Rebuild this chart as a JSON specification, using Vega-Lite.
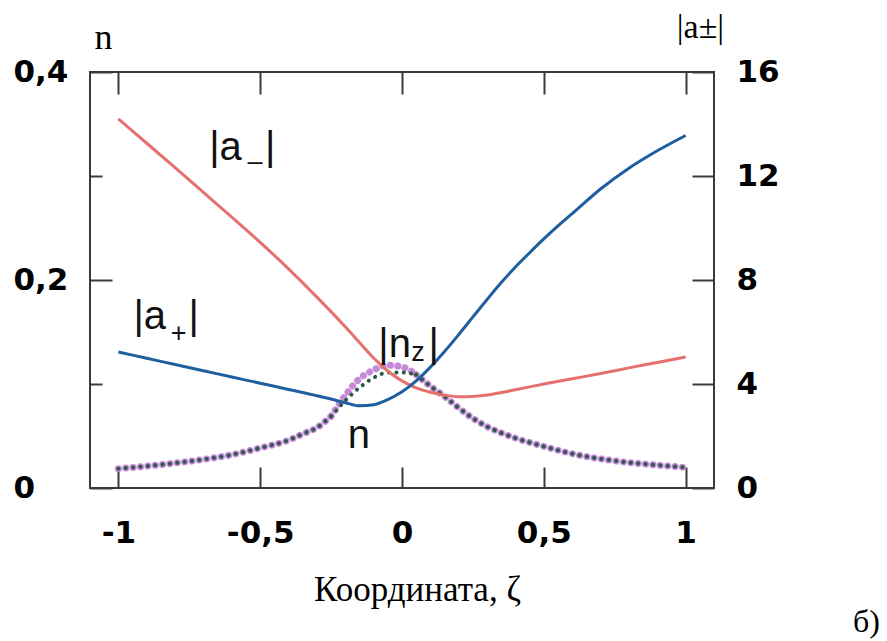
{
  "$schema": "https://vega.github.io/schema/vega-lite/v6.json",
  "width": 624,
  "height": 416,
  "autosize": {"type": "none"},
  "padding": {"left": 90, "top": 72, "right": 173, "bottom": 153},
  "background": "white",
  "config": {
    "view": {"stroke": "#3a3a3a", "strokeWidth": 2},
    "axis": {
      "domain": false, "grid": false, "tickColor": "#3a3a3a", "tickWidth": 2,
      "labelFont": "DejaVu Sans", "labelFontWeight": "bold", "labelFontSize": 31, "labelColor": "#000",
      "labelFlush": false, "labelOverlap": false, "labelBound": false,
      "titleFont": "Liberation Serif", "titleFontWeight": "normal", "titleColor": "#000"
    }
  },
  "title": {"text": "б)", "orient": "bottom", "anchor": "end", "frame": "group", "font": "Liberation Serif", "fontSize": 32, "fontWeight": "normal", "color": "#000", "dx": 166, "offset": 0},
  "datasets": {
    "nz": [
      {"x": -1, "v": 0.0186, "seg": "A"}, {"x": -0.9, "v": 0.021, "seg": "A"}, {"x": -0.8, "v": 0.024, "seg": "A"},
      {"x": -0.7, "v": 0.0275, "seg": "A"}, {"x": -0.6, "v": 0.032, "seg": "A"}, {"x": -0.5, "v": 0.0385, "seg": "A"},
      {"x": -0.4, "v": 0.046, "seg": "A"}, {"x": -0.35, "v": 0.052, "seg": "A"}, {"x": -0.3, "v": 0.058, "seg": "A"},
      {"x": -0.25, "v": 0.069, "seg": "A"},
      {"x": -0.25, "v": 0.069, "seg": "B"}, {"x": -0.2, "v": 0.089, "seg": "B"}, {"x": -0.15, "v": 0.105, "seg": "B"},
      {"x": -0.1, "v": 0.1135, "seg": "B"}, {"x": -0.05, "v": 0.118, "seg": "B"}, {"x": 0, "v": 0.1165, "seg": "B"},
      {"x": 0.05, "v": 0.109, "seg": "B"},
      {"x": 0.05, "v": 0.109, "seg": "C"}, {"x": 0.1, "v": 0.098, "seg": "C"}, {"x": 0.15, "v": 0.088, "seg": "C"},
      {"x": 0.2, "v": 0.077, "seg": "C"}, {"x": 0.25, "v": 0.067, "seg": "C"}, {"x": 0.3, "v": 0.059, "seg": "C"},
      {"x": 0.35, "v": 0.053, "seg": "C"}, {"x": 0.4, "v": 0.048, "seg": "C"}, {"x": 0.5, "v": 0.04, "seg": "C"},
      {"x": 0.6, "v": 0.033, "seg": "C"}, {"x": 0.7, "v": 0.028, "seg": "C"}, {"x": 0.8, "v": 0.0245, "seg": "C"},
      {"x": 0.9, "v": 0.022, "seg": "C"}, {"x": 1, "v": 0.0198, "seg": "C"}
    ],
    "n": [
      {"x": -1, "v": 0.0186, "seg": "A"}, {"x": -0.9, "v": 0.021, "seg": "A"}, {"x": -0.8, "v": 0.024, "seg": "A"},
      {"x": -0.7, "v": 0.0275, "seg": "A"}, {"x": -0.6, "v": 0.032, "seg": "A"}, {"x": -0.5, "v": 0.0385, "seg": "A"},
      {"x": -0.4, "v": 0.046, "seg": "A"}, {"x": -0.35, "v": 0.052, "seg": "A"}, {"x": -0.3, "v": 0.058, "seg": "A"},
      {"x": -0.25, "v": 0.069, "seg": "A"},
      {"x": -0.25, "v": 0.069, "seg": "B"}, {"x": -0.2, "v": 0.084, "seg": "B"}, {"x": -0.15, "v": 0.0965, "seg": "B"},
      {"x": -0.1, "v": 0.106, "seg": "B"}, {"x": -0.05, "v": 0.111, "seg": "B"}, {"x": 0, "v": 0.111, "seg": "B"},
      {"x": 0.05, "v": 0.109, "seg": "B"},
      {"x": 0.05, "v": 0.109, "seg": "C"}, {"x": 0.1, "v": 0.098, "seg": "C"}, {"x": 0.15, "v": 0.088, "seg": "C"},
      {"x": 0.2, "v": 0.077, "seg": "C"}, {"x": 0.25, "v": 0.067, "seg": "C"}, {"x": 0.3, "v": 0.059, "seg": "C"},
      {"x": 0.35, "v": 0.053, "seg": "C"}, {"x": 0.4, "v": 0.048, "seg": "C"}, {"x": 0.5, "v": 0.04, "seg": "C"},
      {"x": 0.6, "v": 0.033, "seg": "C"}, {"x": 0.7, "v": 0.028, "seg": "C"}, {"x": 0.8, "v": 0.0245, "seg": "C"},
      {"x": 0.9, "v": 0.022, "seg": "C"}, {"x": 1, "v": 0.0198, "seg": "C"}
    ],
    "a": [
      {"x": -1, "s": "|a−|", "v": 14.2}, {"x": -0.9, "s": "|a−|", "v": 13.26}, {"x": -0.8, "s": "|a−|", "v": 12.32},
      {"x": -0.7, "s": "|a−|", "v": 11.37}, {"x": -0.6, "s": "|a−|", "v": 10.42}, {"x": -0.5, "s": "|a−|", "v": 9.45},
      {"x": -0.4, "s": "|a−|", "v": 8.43}, {"x": -0.3, "s": "|a−|", "v": 7.34}, {"x": -0.2, "s": "|a−|", "v": 6.2},
      {"x": -0.15, "s": "|a−|", "v": 5.6}, {"x": -0.1, "s": "|a−|", "v": 5.0}, {"x": -0.05, "s": "|a−|", "v": 4.5},
      {"x": 0, "s": "|a−|", "v": 4.12}, {"x": 0.05, "s": "|a−|", "v": 3.85}, {"x": 0.1, "s": "|a−|", "v": 3.68},
      {"x": 0.15, "s": "|a−|", "v": 3.57}, {"x": 0.2, "s": "|a−|", "v": 3.51}, {"x": 0.25, "s": "|a−|", "v": 3.52},
      {"x": 0.3, "s": "|a−|", "v": 3.58}, {"x": 0.4, "s": "|a−|", "v": 3.78}, {"x": 0.5, "s": "|a−|", "v": 4.0},
      {"x": 0.6, "s": "|a−|", "v": 4.2}, {"x": 0.7, "s": "|a−|", "v": 4.4}, {"x": 0.8, "s": "|a−|", "v": 4.62},
      {"x": 0.9, "s": "|a−|", "v": 4.83}, {"x": 1, "s": "|a−|", "v": 5.04},
      {"x": -1, "s": "|a+|", "v": 5.23}, {"x": -0.9, "s": "|a+|", "v": 4.99}, {"x": -0.8, "s": "|a+|", "v": 4.75},
      {"x": -0.7, "s": "|a+|", "v": 4.51}, {"x": -0.6, "s": "|a+|", "v": 4.27}, {"x": -0.5, "s": "|a+|", "v": 4.03},
      {"x": -0.4, "s": "|a+|", "v": 3.79}, {"x": -0.3, "s": "|a+|", "v": 3.55}, {"x": -0.25, "s": "|a+|", "v": 3.42},
      {"x": -0.2, "s": "|a+|", "v": 3.28}, {"x": -0.15, "s": "|a+|", "v": 3.16}, {"x": -0.1, "s": "|a+|", "v": 3.2},
      {"x": -0.05, "s": "|a+|", "v": 3.4}, {"x": 0, "s": "|a+|", "v": 3.7}, {"x": 0.05, "s": "|a+|", "v": 4.12},
      {"x": 0.1, "s": "|a+|", "v": 4.65}, {"x": 0.15, "s": "|a+|", "v": 5.25}, {"x": 0.2, "s": "|a+|", "v": 5.9},
      {"x": 0.25, "s": "|a+|", "v": 6.58}, {"x": 0.3, "s": "|a+|", "v": 7.25}, {"x": 0.35, "s": "|a+|", "v": 7.9},
      {"x": 0.4, "s": "|a+|", "v": 8.5}, {"x": 0.45, "s": "|a+|", "v": 9.05}, {"x": 0.5, "s": "|a+|", "v": 9.58},
      {"x": 0.55, "s": "|a+|", "v": 10.08}, {"x": 0.6, "s": "|a+|", "v": 10.55}, {"x": 0.7, "s": "|a+|", "v": 11.5},
      {"x": 0.8, "s": "|a+|", "v": 12.3}, {"x": 0.9, "s": "|a+|", "v": 12.97}, {"x": 1, "s": "|a+|", "v": 13.56}
    ],
    "labMain": [
      {"x": -0.6797, "y": 12.615, "t": "|a"}, {"x": -0.4829, "y": 12.615, "t": "|"},
      {"x": -0.9467, "y": 6.127, "t": "|a"}, {"x": -0.7527, "y": 6.127, "t": "|"},
      {"x": -0.0836, "y": 5.05, "t": "|n"}, {"x": 0.0935, "y": 5.05, "t": "|"},
      {"x": -0.1915, "y": 1.538, "t": "n"}
    ],
    "labSub": [
      {"x": -0.545, "y": 12.25, "t": "–"},
      {"x": -0.8155, "y": 5.623, "t": "+"},
      {"x": 0.0325, "y": 4.885, "t": "z"}
    ]
  },
  "resolve": {"scale": {"y": "independent"}},
  "layer": [
    {
      "data": {"name": "nz"},
      "mark": {"type": "line", "color": "#c68ad8", "strokeWidth": 7, "strokeDash": [0.1, 7.3], "strokeCap": "round", "interpolate": "monotone"},
      "encoding": {
        "x": {"field": "x", "type": "quantitative", "scale": {"domain": [-1.1, 1.1], "nice": false, "zero": false},
          "axis": {"orient": "bottom", "values": [-1, -0.5, 0, 0.5, 1], "tickSize": -21, "labelPadding": 51, "labelBaseline": "top", "labelAlign": "center",
            "labelExpr": "replace(toString(datum.value), '.', ',')",
            "title": "Координата, ζ", "titleFontSize": 35, "titleX": 327, "titleY": 112, "titleAlign": "center", "titleBaseline": "alphabetic"}},
        "y": {"field": "v", "type": "quantitative", "scale": {"domain": [0, 0.4], "nice": false, "zero": false},
          "axis": {"orient": "left", "values": [0, 0.1, 0.2, 0.3, 0.4],
            "tickSize": {"condition": {"test": "round(datum.value*10) % 2 === 0", "value": -22}, "value": -12},
            "labelPadding": 99, "labelAlign": "left", "labelBaseline": "middle",
            "labelExpr": "round(datum.value*10) % 2 === 0 ? replace(toString(datum.value), '.', ',') : ''",
            "title": "n", "titleAngle": 0, "titleX": 13, "titleY": -24, "titleAlign": "center", "titleBaseline": "alphabetic", "titleFontSize": 36}},
        "detail": {"field": "seg", "type": "nominal"}
      }
    },
    {
      "data": {"name": "n"},
      "mark": {"type": "line", "color": "#2a5a48", "strokeWidth": 4, "strokeDash": [0.1, 7.3], "strokeCap": "round", "interpolate": "monotone"},
      "encoding": {
        "x": {"field": "x", "type": "quantitative", "scale": {"domain": [-1.1, 1.1], "nice": false, "zero": false},
          "axis": {"orient": "top", "values": [-1, -0.5, 0, 0.5, 1], "tickSize": -22, "labels": false, "title": null}},
        "y": {"field": "v", "type": "quantitative", "scale": {"domain": [0, 0.4], "nice": false, "zero": false}, "axis": null},
        "detail": {"field": "seg", "type": "nominal"}
      }
    },
    {
      "data": {"name": "a"},
      "mark": {"type": "line", "strokeWidth": 3, "interpolate": "monotone"},
      "encoding": {
        "x": {"field": "x", "type": "quantitative", "scale": {"domain": [-1.1, 1.1], "nice": false, "zero": false}, "axis": null},
        "y": {"field": "v", "type": "quantitative", "scale": {"domain": [0, 16], "nice": false, "zero": false},
          "axis": {"orient": "right", "values": [0, 4, 8, 12, 16], "tickSize": -22, "labelPadding": 44, "labelAlign": "left", "labelBaseline": "middle",
            "title": "|a±|", "titleAngle": 0, "titleX": -14, "titleY": -35, "titleAlign": "center", "titleBaseline": "alphabetic", "titleFontSize": 34}},
        "color": {"field": "s", "type": "nominal", "scale": {"domain": ["|a−|", "|a+|"], "range": ["#e5706e", "#1f5f9f"]}, "legend": null}
      }
    },
    {
      "data": {"name": "labMain"},
      "mark": {"type": "text", "font": "Liberation Sans", "fontSize": 40, "align": "left", "baseline": "alphabetic", "color": "#111"},
      "encoding": {
        "x": {"field": "x", "type": "quantitative", "scale": {"domain": [-1.1, 1.1], "nice": false, "zero": false}, "axis": null},
        "y": {"field": "y", "type": "quantitative", "scale": {"domain": [0, 16], "nice": false, "zero": false}, "axis": null},
        "text": {"field": "t", "type": "nominal"}
      }
    },
    {
      "data": {"name": "labSub"},
      "mark": {"type": "text", "font": "Liberation Sans", "fontSize": 27, "align": "left", "baseline": "alphabetic", "color": "#111"},
      "encoding": {
        "x": {"field": "x", "type": "quantitative", "scale": {"domain": [-1.1, 1.1], "nice": false, "zero": false}, "axis": null},
        "y": {"field": "y", "type": "quantitative", "scale": {"domain": [0, 16], "nice": false, "zero": false}, "axis": null},
        "text": {"field": "t", "type": "nominal"}
      }
    }
  ]
}
